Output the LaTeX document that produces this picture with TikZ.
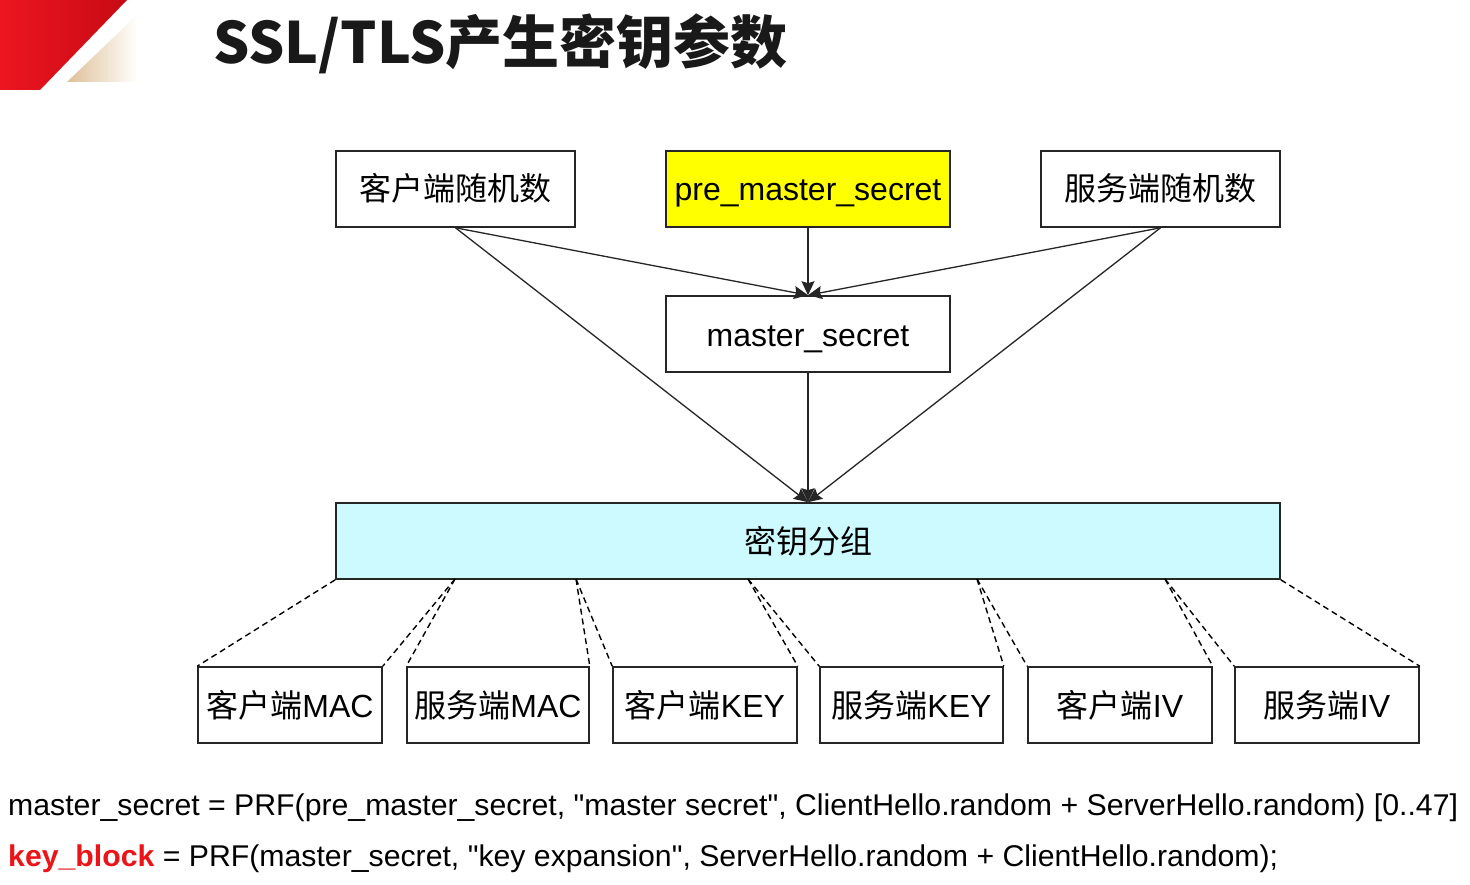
\documentclass[tikz,border=0pt]{standalone}
\usepackage{fontspec}
\usepackage{graphicx}
\setmainfont{Liberation Sans}[Ligatures=TeXOff]
\newfontfamily\cjk{Noto Sans CJK SC}
\usetikzlibrary{arrows.meta}
\definecolor{kgfill}{RGB}{204,250,255}
\definecolor{pmfill}{RGB}{255,255,0}
\definecolor{logored}{RGB}{236,22,32}
\definecolor{logodark}{RGB}{200,10,20}
\definecolor{logotan}{RGB}{222,192,150}
\definecolor{keyred}{RGB}{235,20,25}
\newcommand{\dq}{\symbol{34}}
\begin{document}
\begin{tikzpicture}[x=1pt,y=-1pt,
  box/.style={draw=black!85, line width=1.6pt, inner sep=0pt, minimum height=76pt, text height=28pt, text depth=4pt, font=\fontsize{32}{38}\selectfont},
  conn/.style={draw=black!85, line width=1.3pt, -{Stealth[length=14pt,width=13pt,inset=2pt]}},
  dashlink/.style={draw=black, line width=1.4pt, dash pattern=on 6pt off 4pt},
  formula/.style={anchor=base west, inner sep=0pt, font=\fontsize{30}{36}\selectfont}
]
\useasboundingbox (0,0) rectangle (1470,885);
\fill[white] (0,0) rectangle (1470,885);

% logo
\shade[left color=logored, right color=logodark] (0,0) -- (127,0) -- (40,90) -- (0,90) -- cycle;
\shade[left color=logotan, right color=white] (137,15) -- (67,82) -- (137,82) -- cycle;

% title
\node[anchor=base west, inner sep=0pt, text=black!90, font=\cjk\bfseries\fontsize{57}{60}\selectfont] (title) at (213,64) {SSL/TLS产生密钥参数};

% top row
\node[box, minimum width=239pt] (c1) at (455.5,189) {\cjk 客户端随机数};
\node[box, minimum width=284pt, fill=pmfill] (pm) at (808,189) {pre\_master\_secret};
\node[box, minimum width=239pt] (s1) at (1160.5,189) {\cjk 服务端随机数};
\node[box, minimum width=284pt] (ms) at (808,334) {master\_secret};
\node[box, minimum width=944pt, fill=kgfill] (kg) at (808,541) {\cjk 密钥分组};

% bottom row
\node[box, minimum width=184pt] (b1) at (290,705) {{\cjk 客户端}MAC};
\node[box, minimum width=182pt] (b2) at (498,705) {{\cjk 服务端}MAC};
\node[box, minimum width=184pt] (b3) at (705,705) {{\cjk 客户端}KEY};
\node[box, minimum width=183pt] (b4) at (911.5,705) {{\cjk 服务端}KEY};
\node[box, minimum width=184pt] (b5) at (1120,705) {{\cjk 客户端}IV};
\node[box, minimum width=184pt] (b6) at (1327,705) {{\cjk 服务端}IV};

% arrows to master_secret
\draw[conn] (c1.south) -- (ms.north);
\draw[conn] (pm.south) -- (ms.north);
\draw[conn] (s1.south) -- (ms.north);
% arrows to key group
\draw[conn] (c1.south) -- (kg.north);
\draw[conn] (ms.south) -- (kg.north);
\draw[conn] (s1.south) -- (kg.north);

% split points on key group bottom
\coordinate (k2) at (455,579);
\coordinate (k3) at (576,579);
\coordinate (k4) at (748,579);
\coordinate (k5) at (977,579);
\coordinate (k6) at (1165,579);

\draw[dashlink] (kg.south west) -- (b1.north west);
\draw[dashlink] (k2) -- (b1.north east);
\draw[dashlink] (k2) -- (b2.north west);
\draw[dashlink] (k3) -- (b2.north east);
\draw[dashlink] (k3) -- (b3.north west);
\draw[dashlink] (k4) -- (b3.north east);
\draw[dashlink] (k4) -- (b4.north west);
\draw[dashlink] (k5) -- (b4.north east);
\draw[dashlink] (k5) -- (b5.north west);
\draw[dashlink] (k6) -- (b5.north east);
\draw[dashlink] (k6) -- (b6.north west);
\draw[dashlink] (kg.south east) -- (b6.north east);

% formulas
\node[formula] (f1) at (8,815) {\resizebox{1450pt}{\height}{master\_secret = PRF(pre\_master\_secret, \dq master secret\dq, ClientHello.random + ServerHello.random) [0..47]}};
\node[formula] (f2) at (8,866) {\resizebox{1270pt}{\height}{\textcolor{keyred}{\textbf{key\_block}} = PRF(master\_secret, \dq key expansion\dq, ServerHello.random + ClientHello.random);}};
\end{tikzpicture}
\end{document}
